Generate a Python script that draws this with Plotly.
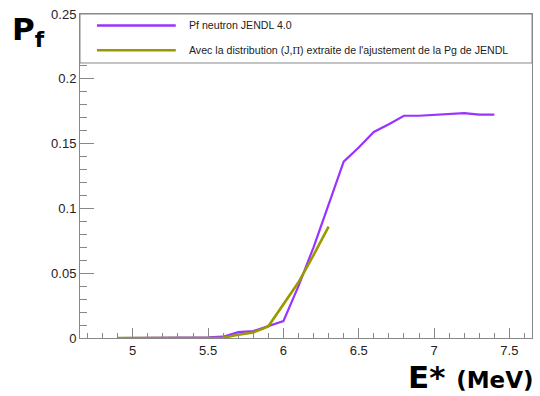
import plotly.graph_objects as go

# ---- data ----
energy_jendl = [4.9, 5.0, 5.1, 5.2, 5.3, 5.4, 5.5, 5.6, 5.7, 5.8, 5.9, 6.0, 6.1,
                6.2, 6.3, 6.4, 6.5, 6.6, 6.7, 6.8, 6.9, 7.0, 7.1, 7.2, 7.3, 7.4]
pf_jendl = [0.0, 0.0, 0.0, 0.0, 0.0, 0.0, 0.0005, 0.001, 0.0045, 0.0053, 0.009,
            0.013, 0.040, 0.070, 0.103, 0.136, 0.147, 0.159, 0.165, 0.1715,
            0.1715, 0.172, 0.1728, 0.1735, 0.1723, 0.1723]

energy_jpi = [4.9, 5.0, 5.1, 5.2, 5.3, 5.4, 5.5, 5.6, 5.7, 5.8, 5.9, 6.0, 6.1, 6.2, 6.3]
pf_jpi = [0.0, 0.0, 0.0, 0.0, 0.0, 0.0, 0.0, 0.0002, 0.0025, 0.0043, 0.009,
          0.026, 0.043, 0.064, 0.086]

name_jendl = "Pf neutron JENDL 4.0"
name_jpi = "Avec la distribution (J,<span style='font-family:Liberation Serif'>Π</span>) extraite de l'ajustement de la Pg de JENDL"

color_jendl = "#9933ff"
color_jpi = "#999900"

x_range = [4.65, 7.65]
y_range = [0.0, 0.25]
legend_bottom = 0.2122

W, H = 540, 396
ml, mr, mt, mb = 80, 7, 11, 58
pw, ph = W - ml - mr, H - mt - mb


def px(xp):
    return (xp - ml) / pw


def py(yp):
    return (H - mb - yp) / ph


fig = go.Figure()
fig.add_trace(go.Scatter(x=energy_jendl, y=pf_jendl, mode="lines", name=name_jendl,
                         line=dict(color=color_jendl, width=2.2)))
fig.add_trace(go.Scatter(x=energy_jpi, y=pf_jpi, mode="lines", name=name_jpi,
                         line=dict(color=color_jpi, width=2.6)))

axis_common = dict(showgrid=False, zeroline=False, showline=True, mirror=True,
                   linecolor="#888888", linewidth=1, ticks="inside",
                   tickcolor="#888888", tickwidth=1,
                   tickfont=dict(family="Liberation Sans", size=13, color="#222222"))

fig.update_xaxes(range=x_range, dtick=0.5, tick0=5, ticklen=10,
                 minor=dict(dtick=0.1, ticklen=5, ticks="inside", tickcolor="#888888"),
                 **axis_common)
fig.update_yaxes(range=y_range, dtick=0.05, tick0=0, ticklen=14,
                 minor=dict(dtick=0.01, ticklen=7, ticks="inside", tickcolor="#888888"),
                 **axis_common)

shapes = [
    dict(type="rect", xref="paper", yref="y", x0=0, x1=1, y0=legend_bottom, y1=y_range[1],
         fillcolor="white", line=dict(color="#888888", width=1), layer="above"),
    dict(type="line", xref="paper", yref="paper", x0=px(97), x1=px(176), y0=py(22.5), y1=py(22.5),
         line=dict(color=color_jendl, width=2.5), layer="above"),
    dict(type="line", xref="paper", yref="paper", x0=px(97), x1=px(176), y0=py(47.5), y1=py(47.5),
         line=dict(color=color_jpi, width=2.5), layer="above"),
]

annotations = [
    dict(text=name_jendl, xref="paper", yref="paper", x=px(187), y=py(22.5),
         xanchor="left", yanchor="middle", showarrow=False,
         font=dict(family="Liberation Sans", size=10.6, color="#222222")),
    dict(text=name_jpi, xref="paper", yref="paper", x=px(187), y=py(47.5),
         xanchor="left", yanchor="middle", showarrow=False,
         font=dict(family="Liberation Sans", size=10.6, color="#222222")),
    dict(text="<b>P<sub>f</sub></b>", xref="paper", yref="paper", x=px(10), y=py(6),
         xanchor="left", yanchor="top", showarrow=False,
         font=dict(family="DejaVu Sans", size=31, color="black")),
    dict(text="<b><span style='font-size:31px'>E*</span> <span style='font-size:23px'>(MeV)</span></b>",
         xref="paper", yref="paper", x=px(537), y=py(377),
         xanchor="right", yanchor="middle", showarrow=False,
         font=dict(family="DejaVu Sans", size=31, color="black")),
]

fig.update_layout(width=W, height=H, margin=dict(l=ml, r=mr, t=mt, b=mb),
                  paper_bgcolor="white", plot_bgcolor="white", showlegend=False,
                  shapes=shapes, annotations=annotations)

fig.write_html("out.html", config={"displayModeBar": False},
               post_script="document.body.style.margin='0';document.body.style.padding='0';")
